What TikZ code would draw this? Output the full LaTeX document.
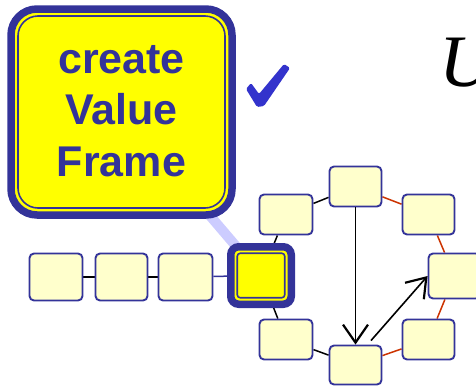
\documentclass[tikz,border=0pt]{standalone}
\usepackage{fontspec}
\setmainfont{Liberation Sans}
\newfontfamily\serifU{Liberation Serif}
\usetikzlibrary{arrows.meta,calc,backgrounds}
\definecolor{navy}{HTML}{333399}
\definecolor{cream}{HTML}{FFFFCC}
\definecolor{hlyellow}{HTML}{FFFF00}
\definecolor{redl}{HTML}{CC3300}
\definecolor{lav}{HTML}{CCCCFF}
\definecolor{checkc}{HTML}{3333CC}
\begin{document}
\begin{tikzpicture}[x=1pt,y=-1pt,
  cell/.style={draw=navy, fill=cream, line width=1.9pt, rounded corners=4.5pt,
    minimum width=52pt, minimum height=40pt, inner sep=0pt},
  blackline/.style={black, line width=1.5pt},
  redline/.style={redl, line width=1.5pt},
  navyline/.style={navy, line width=1.5pt},
  arr/.style={black, line width=1.6pt, -{Straight Barb[length=18pt,width=25pt,line width=2.2pt]}},
  ring/.style={navy, line width=1.6pt}
]
\useasboundingbox (0,0) rectangle (476,386);
\clip (0,0) rectangle (476,386);

% big callout box
\node[draw=navy, line width=7.5pt, fill=hlyellow, rounded corners=26pt, outer sep=0pt,
  minimum width=221pt, minimum height=206pt, inner sep=0pt] (big) at (121.5,112) {};
\draw[ring, rounded corners=20pt] ($(big.north west)+(7,7)$) rectangle ($(big.south east)+(-7,-7)$);
\node[font=\bfseries\fontsize{43}{51.5}\selectfont, text=navy, align=center, inner sep=0pt] (lbl) at (121.5,111) {create\\Value\\Frame};

% check mark
\fill[checkc, rounded corners=1.5pt] (246,89) -- (251,83) -- (259,94) -- (284,64) -- (290,68) -- (264,106) -- (257,107) -- cycle;

% big U
\node[font=\serifU\itshape\fontsize{74}{74}\selectfont, anchor=base west, inner sep=0pt] (u) at (439,86) {U};

% chain
\node[cell, minimum width=53pt, minimum height=47pt] (c1) at (56,277) {};
\node[cell, minimum width=52pt, minimum height=47pt] (c2) at (121.5,277) {};
\node[cell, minimum width=54pt, minimum height=47pt] (c3) at (185.5,277) {};

% highlighted node
\node[draw=navy, line width=7.5pt, fill=hlyellow, rounded corners=8pt, outer sep=0pt,
  minimum width=60.5pt, minimum height=57.5pt, inner sep=0pt] (hl) at (261,275.5) {};
\draw[ring, rounded corners=3pt] ($(hl.north west)+(6.5,6.5)$) rectangle ($(hl.south east)+(-6.5,-6.5)$);

% ring
\node[cell] (t) at (355.5,186.5) {};
\node[cell, minimum width=53pt] (ul) at (286,214.5) {};
\node[cell] (ur) at (428.5,214.5) {};
\node[cell, minimum height=45pt] (r) at (454.5,276) {};
\node[cell, minimum width=53pt] (ll) at (286,339.5) {};
\node[cell] (lr) at (428.5,339.5) {};
\node[cell, minimum height=39pt] (b) at (355.5,365) {};

\begin{scope}[on background layer]
  \draw[lav, line width=10pt] (big.center) -- (hl.center);
  \draw[blackline] (c1) -- (c2);
  \draw[blackline] (c2) -- (c3);
  \draw[navyline] (c3) -- (hl);
  \draw[blackline] (t) -- (ul);
  \draw[blackline] (ul) -- (hl);
  \draw[blackline] (hl) -- (ll);
  \draw[blackline] (ll) -- (b);
  \draw[redline] (b) -- (lr);
  \draw[redline] (lr) -- (r);
  \draw[redline] (r) -- (ur);
  \draw[redline] (ur) -- (t);
\end{scope}

% arrows
\draw[arr] (t) -- (b);
\coordinate (bs) at ($(b.north)+(15.5,-4)$);
\draw[arr] (bs) -- (r.west);
\end{tikzpicture}
\end{document}
